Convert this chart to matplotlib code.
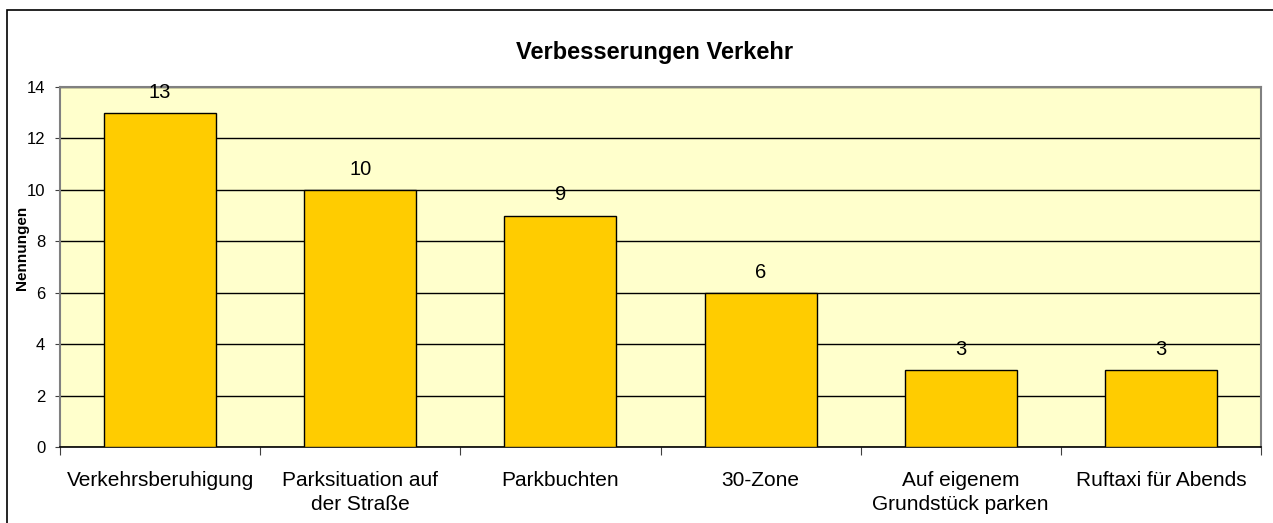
"""
Balkendiagramm: Verbesserungen Verkehr
"""

import numpy as np
import matplotlib
matplotlib.use("Agg")
import matplotlib.pyplot as plt
from matplotlib.patches import Rectangle

plt.rcParams['font.family'] = ['Liberation Sans', 'DejaVu Sans']

# Daten
categories = ["Verkehrsberuhigung",
              "Parksituation auf\nder Straße",
              "Parkbuchten",
              "30-Zone",
              "Auf eigenem\nGrundstück parken",
              "Ruftaxi für Abends",
              ]
counts = [13, 10, 9, 6, 3, 3]
y_ticks = [0, 2, 4, 6, 8, 10, 12, 14]

title = "Verbesserungen Verkehr"
y_label = "Nennungen"

W, H = 1273, 523
fig = plt.figure(figsize=(W / 100, H / 100), dpi=100)

# plot area in pixels: left 60, right 1261, top 87, bottom 447
ax = fig.add_axes([60 / W, 1 - 447 / H, (1261 - 60) / W, (447 - 87) / H])
ax.set_facecolor("#FFFFCC")

x = np.arange(len(categories))
bars = ax.bar(x, counts, width=0.56, color="#FFCC00", edgecolor="black",
              linewidth=1.0, zorder=3)
ax.bar_label(bars, labels=[str(c) for c in counts], padding=8, fontsize=14.5,
             zorder=5, clip_on=False)

ax.set_xlim(-0.5, len(categories) - 0.5)
ax.set_ylim(0, 14)
ax.set_yticks(y_ticks)
ax.set_yticklabels([str(t) for t in y_ticks], fontsize=12)
ax.yaxis.grid(True, color="black", linewidth=1.0, zorder=1)
ax.set_axisbelow(True)

# category ticks between the groups, labels centred under the bars
ax.set_xticks(np.arange(len(categories) + 1) - 0.5)
ax.set_xticklabels([])
ax.set_xticks(x, minor=True)
ax.set_xticklabels(categories, minor=True, fontsize=15, linespacing=1.35)
ax.tick_params(axis="x", which="major", direction="out", length=5.5,
               color="#404040")
ax.tick_params(axis="x", which="minor", length=0, pad=17)
ax.tick_params(axis="y", direction="out", length=3.6, pad=7, color="#404040")

for side in ("top", "right", "left"):
    ax.spines[side].set_color("#808080")
    ax.spines[side].set_linewidth(1.5)
ax.spines["bottom"].set_color("black")
ax.spines["bottom"].set_linewidth(1.2)

fig.text(655 / W, 1 - 53 / H, title, fontsize=17, fontweight="bold",
         ha="center", va="center")
fig.text(22 / W, 1 - 248 / H, y_label, fontsize=11, fontweight="bold",
         rotation=90, ha="center", va="center")

# outer chart border
fig.patches.append(Rectangle((7 / W, -0.05), 1.1, 1 - 10 / H + 0.05,
                             transform=fig.transFigure, fill=False,
                             edgecolor="black", linewidth=1.2))

fig.savefig("out.png", dpi=100)
